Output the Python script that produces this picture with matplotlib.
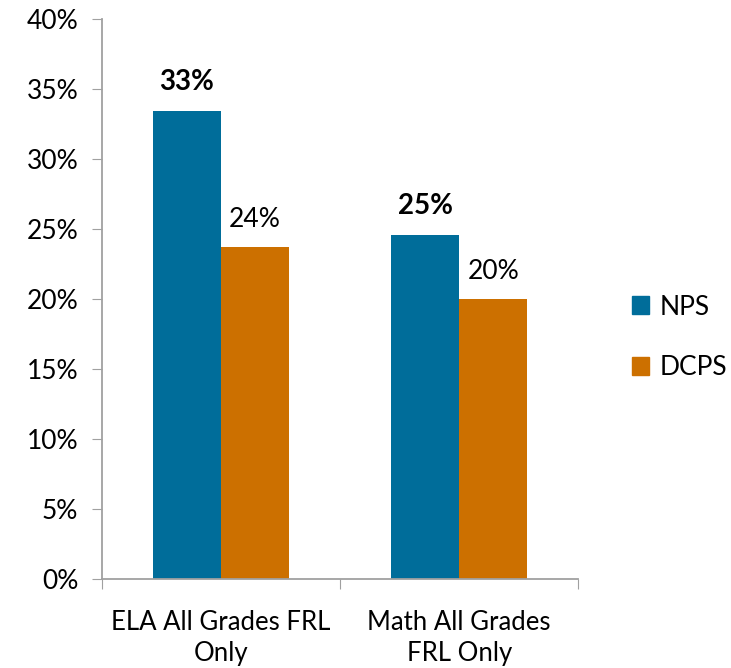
import matplotlib.pyplot as plt
import matplotlib.ticker as mticker
import numpy as np
from matplotlib.patches import Patch

plt.rcParams['font.family'] = ['Lato', 'DejaVu Sans']

categories = ["ELA All Grades FRL\nOnly", "Math All Grades\nFRL Only"]
nps = [0.334, 0.246]
dcps = [0.237, 0.200]
nps_labels = ["33%", "25%"]
dcps_labels = ["24%", "20%"]

c_nps = "#006D9A"
c_dcps = "#CC7000"

fig = plt.figure(figsize=(7.31, 6.68), dpi=100)
ax = fig.add_axes([0.1395, 0.1332, 0.6515, 0.8384])

x = np.arange(len(categories))
w = 0.286
b1 = ax.bar(x - w / 2, nps, w, color=c_nps, label="NPS")
b2 = ax.bar(x + w / 2, dcps, w, color=c_dcps, label="DCPS")

for bar, txt in zip(b1, nps_labels):
    ax.annotate(txt, (bar.get_x() + bar.get_width() / 2, bar.get_height()),
                xytext=(0, 11.5), textcoords="offset points",
                ha="center", va="bottom", fontsize=20, fontweight="bold")
for bar, txt in zip(b2, dcps_labels):
    ax.annotate(txt, (bar.get_x() + bar.get_width() / 2, bar.get_height()),
                xytext=(0, 11), textcoords="offset points",
                ha="center", va="bottom", fontsize=19)

ax.set_xlim(-0.5, 1.5)
ax.set_ylim(0, 0.40)
ax.yaxis.set_major_locator(mticker.MultipleLocator(0.05))
ax.yaxis.set_major_formatter(mticker.PercentFormatter(1.0, decimals=0))

ax.set_xticks([-0.5, 0.5, 1.5])
ax.set_xticklabels([])
ax.set_xticks(x, minor=True)
ax.set_xticklabels(categories, minor=True, fontsize=18.5, linespacing=1.3)
ax.tick_params(axis="x", which="minor", length=0, pad=22)
ax.tick_params(axis="x", which="major", length=7, direction="out", color="#a0a0a0")
ax.tick_params(axis="y", length=7, direction="out", color="#a0a0a0", labelsize=19, pad=10)

for s in ["top", "right"]:
    ax.spines[s].set_visible(False)
for s in ["left", "bottom"]:
    ax.spines[s].set_color("#a0a0a0")
    ax.spines[s].set_linewidth(1.3)

handles = [Patch(color=c_nps, label="NPS"), Patch(color=c_dcps, label="DCPS")]
fig.legend(handles=handles, loc="center left", bbox_to_anchor=(0.832, 0.495),
           frameon=False, fontsize=19, handlelength=0.65, handleheight=0.65,
           handletextpad=0.4, labelspacing=1.35)

fig.savefig("out.png", dpi=100)
